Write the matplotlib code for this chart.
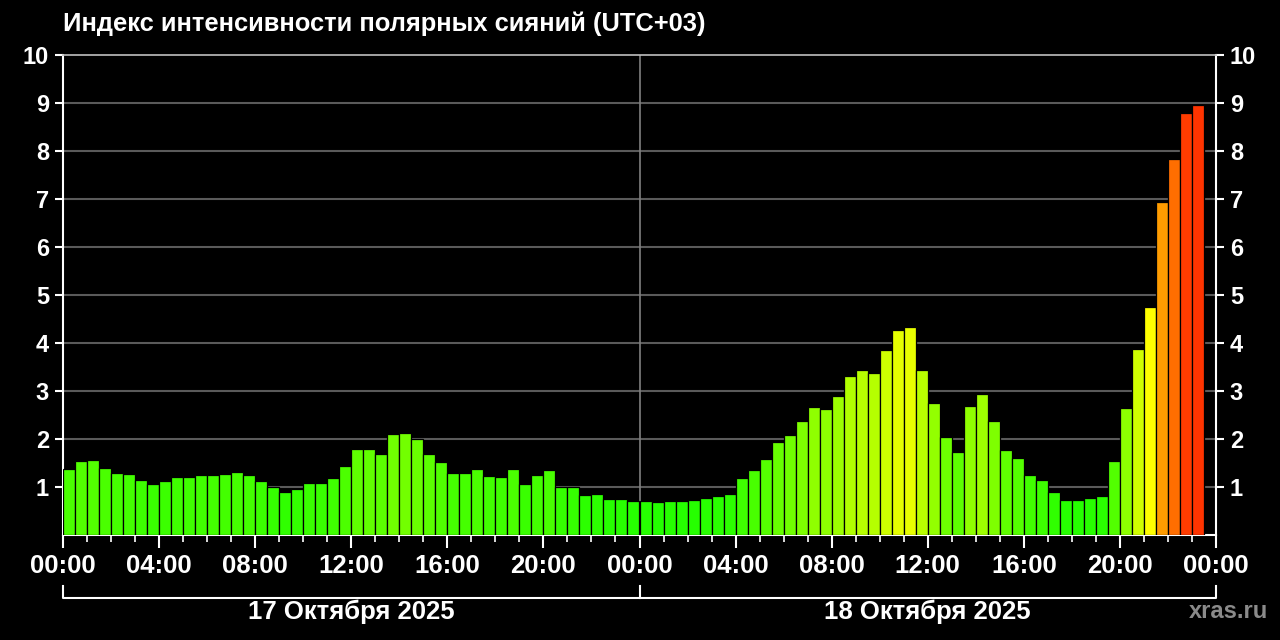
import numpy as np
import matplotlib
matplotlib.use("Agg")
import matplotlib.pyplot as plt
from matplotlib.colors import LinearSegmentedColormap
from matplotlib.ticker import MultipleLocator
import matplotlib.transforms as mtransforms

# half-hour index values, 17 Oct 00:00 .. 18 Oct 23:00 (UTC+03)
values = [
    1.38, 1.55, 1.56, 1.40, 1.30, 1.28, 1.15, 1.06, 1.13, 1.21, 1.21, 1.24,
    1.25, 1.28, 1.32, 1.25, 1.13, 0.99, 0.90, 0.95, 1.09, 1.09, 1.19, 1.44,
    1.79, 1.80, 1.68, 2.10, 2.13, 1.99, 1.68, 1.52, 1.30, 1.30, 1.38, 1.23,
    1.20, 1.37, 1.07, 1.25, 1.35, 1.00, 1.01, 0.83, 0.85, 0.74, 0.76, 0.71,
    0.71, 0.69, 0.71, 0.71, 0.73, 0.78, 0.82, 0.85, 1.19, 1.35, 1.58, 1.93,
    2.08, 2.38, 2.67, 2.63, 2.90, 3.31, 3.43, 3.38, 3.85, 4.28, 4.33, 3.44,
    2.76, 2.05, 1.72, 2.68, 2.94, 2.38, 1.78, 1.60, 1.24, 1.15, 0.90, 0.73,
    0.73, 0.78, 0.81, 1.55, 2.64, 3.88, 4.75, 6.94, 7.83, 8.80, 8.95,
]
x_labels = ["00:00", "04:00", "08:00", "12:00", "16:00", "20:00",
            "00:00", "04:00", "08:00", "12:00", "16:00", "20:00", "00:00"]
day_labels = ["17 Октября 2025", "18 Октября 2025"]
title = "Индекс интенсивности полярных сияний (UTC+03)"

plt.rcParams['font.family'] = ['Liberation Sans', 'DejaVu Sans']
plt.rcParams['font.weight'] = 'bold'

cmap = LinearSegmentedColormap.from_list(
    "aurora",
    [(0.0, "#00ff00"), (0.475, "#ffff00"), (0.7, "#ff9900"),
     (0.9, "#ff3300"), (1.0, "#ff0000")])

fig = plt.figure(figsize=(12.8, 6.4), dpi=100, facecolor="black")
ax = fig.add_axes([63/1280, 1 - 535/640, (1216 - 63)/1280, 480/640])
ax.set_facecolor("black")

hours = np.arange(len(values)) * 0.5
vals = np.array(values)
ax.bar(hours, vals, width=0.5, align="edge", color=cmap(vals / 10),
       edgecolor="black", linewidth=0.9, zorder=3)

ax.set_xlim(0, 48)
ax.set_ylim(0, 10)

# grid
for y in range(1, 10):
    ax.axhline(y, color="#5a5a5a", lw=1.5, zorder=1)
ax.axvline(24, color="#808080", lw=1.2, zorder=1)

for side in ["left", "right", "bottom"]:
    ax.spines[side].set_color("white")
    ax.spines[side].set_linewidth(1.5)
ax.spines["top"].set_color("#c0c0c0")
ax.spines["top"].set_linewidth(1.2)

ax.set_yticks(range(1, 11))
ax.set_yticklabels([str(v) for v in range(1, 11)])
ax.set_xticks(np.arange(0, 49, 4))
ax.set_xticklabels(x_labels)
ax.xaxis.set_minor_locator(MultipleLocator(1))

ax.tick_params(axis="y", colors="white", labelsize=17, length=6, width=1.5,
               right=True, labelright=True, pad=4)
ax.tick_params(axis="x", which="major", colors="white", labelsize=18.5,
               length=9, width=1.5, pad=5)
ax.tick_params(axis="x", which="minor", colors="white", length=5, width=1.2)

# date brackets below axis
trans = mtransforms.blended_transform_factory(ax.transData, ax.transAxes)
yb, yt = -0.131, -0.106
ax.plot([0, 0, 48, 48], [yt, yb, yb, yt], color="white", lw=1.5,
        transform=trans, clip_on=False)
ax.plot([24, 24], [yb, yt], color="white", lw=1.5, transform=trans,
        clip_on=False)
for i, lab in enumerate(day_labels):
    ax.text(12 + 24 * i, -0.16, lab, transform=trans, color="white",
            fontsize=18.5, fontweight="bold", ha="center", va="center")

fig.text(1228/1280, 1 - 612/640, "xras.ru", color="#8a8a8a", fontsize=17,
         fontweight="bold", ha="center", va="center")
fig.text(63/1280, 1 - 24/640, title, color="white", fontsize=18.4,
         fontweight="bold", ha="left", va="center")

fig.savefig("out.png", dpi=100, facecolor="black")
